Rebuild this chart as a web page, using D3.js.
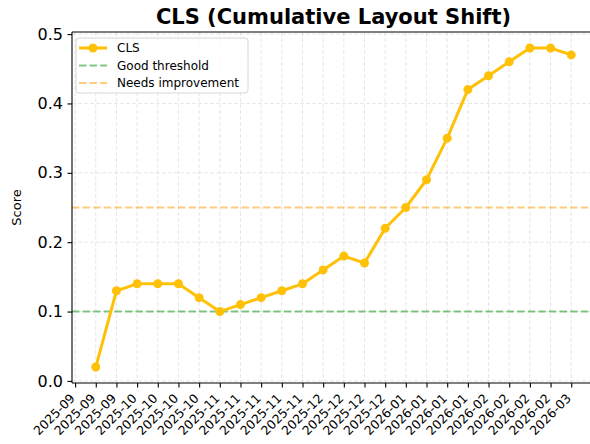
<!DOCTYPE html>
<html>
<head>
<meta charset="utf-8">
<script src="https://cdn.jsdelivr.net/npm/d3@7"></script>
<style>
  body { margin: 0; background: #fff; }
  text { font-family: "DejaVu Sans", sans-serif; }
</style>
</head>
<body>
<div id="chart"></div>
<script>
// weekly CLS readings
var clsValues = [0.02, 0.13, 0.14, 0.14, 0.14, 0.12, 0.10, 0.11, 0.12, 0.13, 0.14, 0.16,
                 0.18, 0.17, 0.22, 0.25, 0.29, 0.35, 0.42, 0.44, 0.46, 0.48, 0.48, 0.47];
// tick labels, first tick sits one step before the first reading
var tickLabels = ["2025-09", "2025-09", "2025-09", "2025-10", "2025-10", "2025-10", "2025-10",
                  "2025-11", "2025-11", "2025-11", "2025-11", "2025-11", "2025-12", "2025-12",
                  "2025-12", "2025-12", "2026-01", "2026-01", "2026-01", "2026-01", "2026-02",
                  "2026-02", "2026-02", "2026-02", "2026-03"];
var yTicks = [0.0, 0.1, 0.2, 0.3, 0.4, 0.5];
var thresholds = [
  { name: "Good threshold", value: 0.1, color: "#4CAF50", opacity: 0.7 },
  { name: "Needs improvement", value: 0.25, color: "#FF9800", opacity: 0.5 }
];

var W = 590, H = 444;
var pLeft = 72, pTop = 32, pRight = 595, pBottom = 383;

var svg = d3.select("#chart").append("svg")
    .attr("width", W).attr("height", H);

var x = d3.scaleLinear().domain([-1.15, 24.15]).range([pLeft, pRight]);
var y = d3.scaleLinear().domain([-0.003, 0.503]).range([pBottom, pTop]);

var tickIdx = tickLabels.map(function(d, i) { return i - 1; });

// grid
svg.append("g").selectAll("line")
    .data(tickIdx).enter().append("line")
    .attr("x1", function(d) { return x(d); }).attr("x2", function(d) { return x(d); })
    .attr("y1", pTop).attr("y2", pBottom)
    .attr("stroke", "#b0b0b0").attr("stroke-opacity", 0.3)
    .attr("stroke-width", 1).attr("stroke-dasharray", "4,2");
svg.append("g").selectAll("line")
    .data(yTicks).enter().append("line")
    .attr("x1", pLeft).attr("x2", pRight)
    .attr("y1", function(d) { return y(d); }).attr("y2", function(d) { return y(d); })
    .attr("stroke", "#b0b0b0").attr("stroke-opacity", 0.3)
    .attr("stroke-width", 1).attr("stroke-dasharray", "4,2");

// threshold lines
svg.append("g").selectAll("line")
    .data(thresholds).enter().append("line")
    .attr("x1", pLeft).attr("x2", pRight)
    .attr("y1", function(d) { return y(d.value); }).attr("y2", function(d) { return y(d.value); })
    .attr("stroke", function(d) { return d.color; })
    .attr("stroke-opacity", function(d) { return d.opacity; })
    .attr("stroke-width", 2).attr("stroke-dasharray", "7.4,3.2");

// CLS line
var line = d3.line()
    .x(function(d, i) { return x(i); })
    .y(function(d) { return y(d); });
svg.append("path").datum(clsValues)
    .attr("d", line).attr("fill", "none")
    .attr("stroke", "#FFC107").attr("stroke-width", 3)
    .attr("stroke-linejoin", "round");
svg.append("g").selectAll("circle")
    .data(clsValues).enter().append("circle")
    .attr("cx", function(d, i) { return x(i); })
    .attr("cy", function(d) { return y(d); })
    .attr("r", 4.5).attr("fill", "#FFC107");

// spines
svg.append("line").attr("x1", pLeft).attr("x2", pLeft).attr("y1", pTop).attr("y2", pBottom)
    .attr("stroke", "#000").attr("stroke-width", 1.1);
svg.append("line").attr("x1", pLeft).attr("x2", pRight).attr("y1", pBottom).attr("y2", pBottom)
    .attr("stroke", "#000").attr("stroke-width", 1.1);
svg.append("line").attr("x1", pLeft).attr("x2", pRight).attr("y1", pTop).attr("y2", pTop)
    .attr("stroke", "#000").attr("stroke-width", 1.1);

// y axis
var yAxis = d3.axisLeft(y).tickValues(yTicks).tickFormat(d3.format(".1f"))
    .tickSize(4.5).tickPadding(4.5);
var gy = svg.append("g").attr("transform", "translate(" + pLeft + ",0)").call(yAxis);
gy.select(".domain").remove();
gy.selectAll("text").attr("font-size", 16).attr("fill", "#000")
    .style("font-family", "DejaVu Sans");
gy.selectAll("line").attr("stroke", "#000").attr("stroke-width", 1.1);

// x axis
var xAxis = d3.axisBottom(x).tickValues(tickIdx)
    .tickFormat(function(d) { return tickLabels[d + 1]; })
    .tickSize(4.5);
var gx = svg.append("g").attr("transform", "translate(0," + pBottom + ")").call(xAxis);
gx.select(".domain").remove();
gx.selectAll("line").attr("stroke", "#000").attr("stroke-width", 1.1);
gx.selectAll("text")
    .attr("font-size", 12.5).attr("fill", "#000")
    .style("font-family", "DejaVu Sans")
    .attr("text-anchor", "end")
    .attr("y", 0).attr("dy", "0.35em")
    .attr("transform", "translate(-3,13) rotate(-45)");

// labels
svg.append("text")
    .attr("x", (pLeft + pRight) / 2).attr("y", 24)
    .attr("text-anchor", "middle")
    .attr("font-size", 21).attr("font-weight", "bold")
    .text("CLS (Cumulative Layout Shift)");
svg.append("text")
    .attr("transform", "translate(21," + (pTop + pBottom) / 2 + ") rotate(-90)")
    .attr("text-anchor", "middle")
    .attr("font-size", 13)
    .text("Score");

// legend
var legendItems = [{ name: "CLS", color: "#FFC107", opacity: 1, marker: true }]
    .concat(thresholds.map(function(t) {
      return { name: t.name, color: t.color, opacity: t.opacity, marker: false };
    }));
var lg = svg.append("g").attr("transform", "translate(76,38)");
lg.append("rect").attr("width", 172).attr("height", 55)
    .attr("rx", 3).attr("fill", "#fff").attr("fill-opacity", 0.8)
    .attr("stroke", "#d6d6d6");
var items = lg.selectAll("g.item").data(legendItems).enter().append("g")
    .attr("transform", function(d, i) { return "translate(0," + (10 + i * 17.5) + ")"; });
items.append("line")
    .attr("x1", 3).attr("x2", 31).attr("y1", 0).attr("y2", 0)
    .attr("stroke", function(d) { return d.color; })
    .attr("stroke-opacity", function(d) { return d.opacity; })
    .attr("stroke-width", function(d) { return d.marker ? 3 : 2; })
    .attr("stroke-dasharray", function(d) { return d.marker ? null : "7.4,3.2"; });
items.filter(function(d) { return d.marker; }).append("circle")
    .attr("cx", 17).attr("cy", 0).attr("r", 4.5).attr("fill", function(d) { return d.color; });
items.append("text")
    .attr("x", 41).attr("y", 0).attr("dy", "0.35em")
    .attr("font-size", 12)
    .text(function(d) { return d.name; });
</script>
</body>
</html>
